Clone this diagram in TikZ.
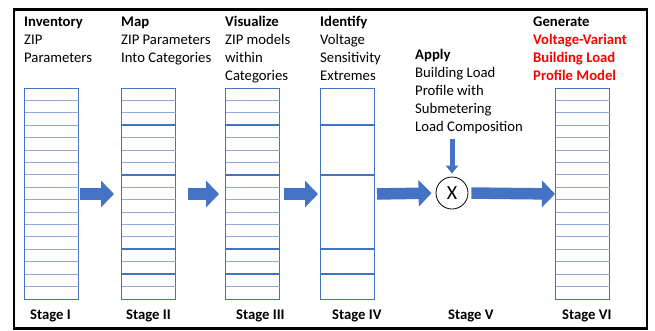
\documentclass[tikz,border=0pt]{standalone}
\usepackage{fontspec}
\setmainfont{Carlito}
\usetikzlibrary{arrows.meta}
\definecolor{tblue}{HTML}{4472C4}
\definecolor{tlight}{HTML}{8EAADB}
\definecolor{tred}{HTML}{FF0000}
\begin{document}
\begin{tikzpicture}[x=1pt,y=-1pt,
  txt/.style={anchor=north west,inner sep=0pt,align=left,font=\fontsize{14.7}{18}\selectfont},
  stg/.style={anchor=base west,inner sep=0pt,font=\fontsize{14.7}{18}\selectfont\bfseries},
  tab/.style={draw=tblue,line width=1pt,minimum width=54pt,minimum height=211pt,inner sep=0pt,anchor=north west},
  thinrow/.style={draw=tlight,line width=0.9pt},
  thickrow/.style={draw=tblue,line width=2pt},
  barrow/.style={draw=tblue,line width=11.5pt,-{Triangle[length=13pt,width=26pt]}},
  sarrow/.style={draw=tblue,line width=5pt,-{Triangle[length=8pt,width=12pt]}}
]
\useasboundingbox (0,0) rectangle (655,330);
\draw[line width=2.5pt] (14,9.5) rectangle (647,328.5);

% tables
\node[tab] (t1) at (24,88) {};
\node[tab] (t2) at (121,88) {};
\node[tab] (t3) at (225,88) {};
\node[tab] (t4) at (320,88) {};
\node[tab] (t6) at (555,88) {};
\foreach \t in {t1,t2,t3,t6}{
  \foreach \k in {1,...,16}{
    \draw[thinrow] ([xshift=0.5pt,yshift=-\k*12.41pt]\t.north west) -- ([xshift=-0.5pt,yshift=-\k*12.41pt]\t.north east);
  }
}
\foreach \t in {t2,t3,t4}{
  \foreach \k in {3,7,13,15}{
    \draw[thickrow] ([yshift=-\k*12.41pt]\t.north west) -- ([yshift=-\k*12.41pt]\t.north east);
  }
}

% headings (top = first baseline - 12.6)
\node[txt] (h1) at (24,13.9) {\strut\textbf{Inventory}\\ZIP\\Parameters};
\node[txt] (h2) at (121,13.9) {\strut\textbf{Map}\\ZIP Parameters\\Into Categories};
\node[txt] (h3) at (225,13.9) {\strut\textbf{Visualize}\\ZIP models\\within\\Categories};
\node[txt] (h4) at (320,13.9) {\strut\textbf{Identify}\\Voltage\\Sensitivity\\Extremes};
\node[txt] (h5) at (415,46.9) {\strut\textbf{Apply}\\Building Load\\Profile with\\Submetering\\Load Composition};
\node[txt] (h6) at (533,13.4) {\strut\textbf{Generate}\\\textcolor{tred}{\textbf{Voltage-Variant}}\\\textcolor{tred}{\textbf{Building Load}}\\\textcolor{tred}{\textbf{Profile Model}}};

% stage labels
\node[stg] (s1) at (30,319.5) {Stage I};
\node[stg] (s2) at (126,319.5) {Stage II};
\node[stg] (s3) at (236,319.5) {Stage III};
\node[stg] (s4) at (332,319.5) {Stage IV};
\node[stg] (s5) at (448,319.5) {Stage V};
\node[stg] (s6) at (562,319.5) {Stage VI};

% multiplier
\node[circle,draw,line width=0.8pt,minimum size=32pt,inner sep=0pt,font=\fontsize{20}{20}\selectfont] (x) at (452,193) {X};
\coordinate (dtop) at (452,139);

% arrows
\draw[barrow,shorten <=1pt,shorten >=7pt] (t1.east) -- (t2.west);
\draw[barrow,shorten <=12pt,shorten >=6pt] (t2.east) -- (t3.west);
\draw[barrow,shorten <=4pt,shorten >=2pt] (t3.east) -- (t4.west);
\draw[barrow,shorten <=2pt,shorten >=4pt] (t4.east) -- (x.west);
\draw[barrow,shorten <=3pt,shorten >=0pt] (x.east) -- (t6.west);
\draw[sarrow,shorten >=3pt] (dtop) -- (x.north);
\end{tikzpicture}
\end{document}
